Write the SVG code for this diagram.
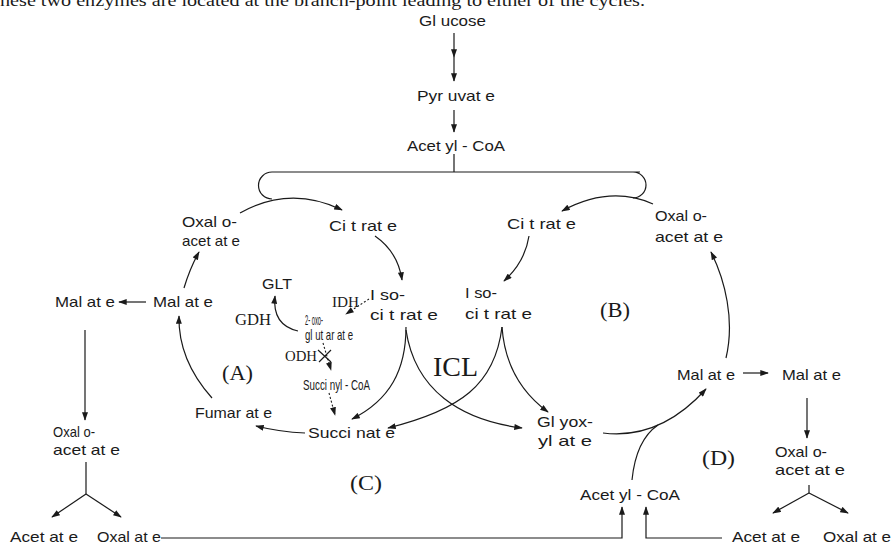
<svg xmlns="http://www.w3.org/2000/svg" width="892" height="546" viewBox="0 0 892 546">
<defs>
<marker id="ah" viewBox="0 0 10 7" refX="9" refY="3.5" markerWidth="9" markerHeight="6" markerUnits="userSpaceOnUse" orient="auto"><path d="M0,0 L10,3.5 L0,7 z" fill="#1a1a1a"/></marker>
<style>
.t{font-family:"Liberation Sans",Arial,sans-serif;font-size:15px;fill:#1a1a1a}
.s{font-family:"Liberation Serif","Times New Roman",serif;fill:#1a1a1a}
.c{fill:none;stroke:#1a1a1a;stroke-width:1.2}
.d{fill:none;stroke:#1a1a1a;stroke-width:1.1;stroke-dasharray:2 2}
.a{marker-end:url(#ah)}
</style>
</defs>
<rect width="892" height="546" fill="#fff"/>
<text class="s" x="0" y="6" font-size="17" textLength="645" lengthAdjust="spacingAndGlyphs">hese two enzymes are located at the branch-point leading to either of the cycles.</text>

<g id="connectors">
<path class="c a" d="M454,33 L454,57"/>
<path class="c a" d="M454,57 L454,81"/>
<path class="c a" d="M454,110 L454,132"/>
<path class="c" d="M454,154 L454,172 M640,172 L272,172 A13.5,13.5 0 0 0 272,199 M633,172 A13,13 0 0 1 633,198"/>
<path class="c a" d="M240,213 Q290,185 342,210"/>
<path class="c a" d="M653,204 Q610,185 562,211"/>
<path class="c a" d="M375,236 Q398,252 402,280"/>
<path class="c a" d="M529,236 Q525,262 504,281"/>
<path class="c a" d="M406,327 C406,370 390,400 352,419"/>
<path class="c a" d="M406,330 C415,390 460,420 522,428"/>
<path class="c a" d="M502,327 C505,370 525,395 548,412"/>
<path class="c a" d="M502,327 C495,385 460,410 388,428"/>
<path class="c a" d="M305,433 Q280,432 256,426"/>
<path class="c a" d="M212,398 Q178,360 179,316"/>
<path class="c a" d="M184,288 Q190,268 199,252"/>
<path class="c a" d="M146,302 L119,302"/>
<path class="c a" d="M85,330 L85,420"/>
<path class="c" d="M86,462 L86,494"/>
<path class="c a" d="M86,494 L52,517"/>
<path class="c a" d="M86,494 L121,517"/>
<path class="d a" d="M369,299 L346,314"/>
<path class="c a" d="M298,331 Q272,325 275,296"/>
<path class="d a" d="M323,343 L331,370"/>
<path class="c" d="M318,350 L331,362 M319,362 L331,350" stroke-width="2"/>
<path class="d a" d="M329,393 L335,415"/>
<path class="c a" d="M603,433 Q660,440 706,389"/>
<path class="c" d="M632,480 Q636,440 658,425"/>
<path class="c a" d="M726,358 C735,320 725,280 711,252"/>
<path class="c a" d="M743,373 L768,373"/>
<path class="c a" d="M807,398 L807,438"/>
<path class="c" d="M809,485 L809,493"/>
<path class="c a" d="M809,493 L773,513"/>
<path class="c a" d="M809,493 L848,513"/>
<path class="c a" d="M161,538 L622,538 L622,507"/>
<path class="c a" d="M722,538 L646,538 L646,507"/>
</g>

<g id="glucose"><text class="t" x="419" y="26" textLength="67" lengthAdjust="spacingAndGlyphs">Gl ucose</text></g>
<g id="pyruvate"><text class="t" x="417" y="101" textLength="78" lengthAdjust="spacingAndGlyphs">Pyr uvat e</text></g>
<g id="acetylcoa-top"><text class="t" x="407" y="151" textLength="98" lengthAdjust="spacingAndGlyphs">Acet yl - CoA</text></g>
<g id="oxaloacetate-A"><text class="t" x="182" y="227" textLength="55" lengthAdjust="spacingAndGlyphs">Oxal o-</text><text class="t" x="182" y="246" textLength="58" lengthAdjust="spacingAndGlyphs">acet at e</text></g>
<g id="citrate-A"><text class="t" x="329" y="231" textLength="68" lengthAdjust="spacingAndGlyphs">Ci t rat e</text></g>
<g id="citrate-B"><text class="t" x="507" y="229" textLength="69" lengthAdjust="spacingAndGlyphs">Ci t rat e</text></g>
<g id="oxaloacetate-B"><text class="t" x="655" y="221" textLength="52" lengthAdjust="spacingAndGlyphs">Oxal o-</text><text class="t" x="655" y="242" textLength="68" lengthAdjust="spacingAndGlyphs">acet at e</text></g>
<g id="isocitrate-A"><text class="t" x="370" y="300" textLength="35" lengthAdjust="spacingAndGlyphs">I so-</text><text class="t" x="370" y="320" textLength="68" lengthAdjust="spacingAndGlyphs">ci t rat e</text></g>
<g id="isocitrate-B"><text class="t" x="465" y="298" textLength="32" lengthAdjust="spacingAndGlyphs">I so-</text><text class="t" x="465" y="319" textLength="67" lengthAdjust="spacingAndGlyphs">ci t rat e</text></g>
<g id="malate-out-L"><text class="t" x="55" y="307" textLength="60" lengthAdjust="spacingAndGlyphs">Mal at e</text></g>
<g id="malate-A"><text class="t" x="153" y="307" textLength="60" lengthAdjust="spacingAndGlyphs">Mal at e</text></g>
<g id="fumarate"><text class="t" x="195" y="418" textLength="77" lengthAdjust="spacingAndGlyphs">Fumar at e</text></g>
<g id="succinate"><text class="t" x="308" y="438" textLength="87" lengthAdjust="spacingAndGlyphs">Succi nat e</text></g>
<g id="glyoxylate"><text class="t" x="537" y="427" textLength="56" lengthAdjust="spacingAndGlyphs">Gl yox-</text><text class="t" x="538" y="446" textLength="54" lengthAdjust="spacingAndGlyphs">yl at e</text></g>
<g id="malate-B"><text class="t" x="677" y="380" textLength="58" lengthAdjust="spacingAndGlyphs">Mal at e</text></g>
<g id="malate-out-R"><text class="t" x="782" y="380" textLength="59" lengthAdjust="spacingAndGlyphs">Mal at e</text></g>
<g id="oxaloacetate-R"><text class="t" x="775" y="457" textLength="52" lengthAdjust="spacingAndGlyphs">Oxal o-</text><text class="t" x="775" y="475" textLength="70" lengthAdjust="spacingAndGlyphs">acet at e</text></g>
<g id="acetylcoa-bottom"><text class="t" x="580" y="500" textLength="100" lengthAdjust="spacingAndGlyphs">Acet yl - CoA</text></g>
<g id="acetate-R"><text class="t" x="732" y="542" textLength="68" lengthAdjust="spacingAndGlyphs">Acet at e</text></g>
<g id="oxalate-R"><text class="t" x="823" y="542" textLength="68" lengthAdjust="spacingAndGlyphs">Oxal at e</text></g>
<g id="oxaloacetate-L"><text class="t" x="53" y="437" font-size="14" textLength="42" lengthAdjust="spacingAndGlyphs">Oxal o-</text><text class="t" x="53" y="455" font-size="14" textLength="67" lengthAdjust="spacingAndGlyphs">acet at e</text></g>
<g id="acetate-L"><text class="t" x="10" y="542" textLength="68" lengthAdjust="spacingAndGlyphs">Acet at e</text></g>
<g id="oxalate-L"><text class="t" x="97" y="542" textLength="64" lengthAdjust="spacingAndGlyphs">Oxal at e</text></g>
<g id="glt"><text class="t" x="262" y="289" textLength="30" lengthAdjust="spacingAndGlyphs">GLT</text></g>
<g id="idh"><text class="s" x="332" y="307" font-size="15" textLength="27" lengthAdjust="spacingAndGlyphs">IDH</text></g>
<g id="gdh"><text class="s" x="235" y="325" font-size="16" textLength="36" lengthAdjust="spacingAndGlyphs">GDH</text></g>
<g id="oxoglutarate"><text class="t" x="305" y="325" font-size="7" textLength="18" lengthAdjust="spacingAndGlyphs">2- oxo-</text><text class="t" x="305" y="340" font-size="7.5" textLength="48" lengthAdjust="spacingAndGlyphs">gl ut ar at e</text></g>
<g id="odh"><text class="s" x="285" y="361" font-size="15" textLength="32" lengthAdjust="spacingAndGlyphs">ODH</text></g>
<g id="succinylcoa"><text class="t" x="303" y="390" font-size="9" textLength="67" lengthAdjust="spacingAndGlyphs">Succi nyl - CoA</text></g>
<g id="label-A"><text class="s" x="222" y="380" font-size="21" textLength="31" lengthAdjust="spacingAndGlyphs">(A)</text></g>
<g id="label-B"><text class="s" x="600" y="317" font-size="21" textLength="30" lengthAdjust="spacingAndGlyphs">(B)</text></g>
<g id="label-C"><text class="s" x="350" y="490" font-size="21" textLength="32" lengthAdjust="spacingAndGlyphs">(C)</text></g>
<g id="label-D"><text class="s" x="702" y="465" font-size="21" textLength="33" lengthAdjust="spacingAndGlyphs">(D)</text></g>
<g id="icl"><text class="s" x="433" y="376" font-size="27" textLength="45" lengthAdjust="spacingAndGlyphs">ICL</text></g>
</svg>
